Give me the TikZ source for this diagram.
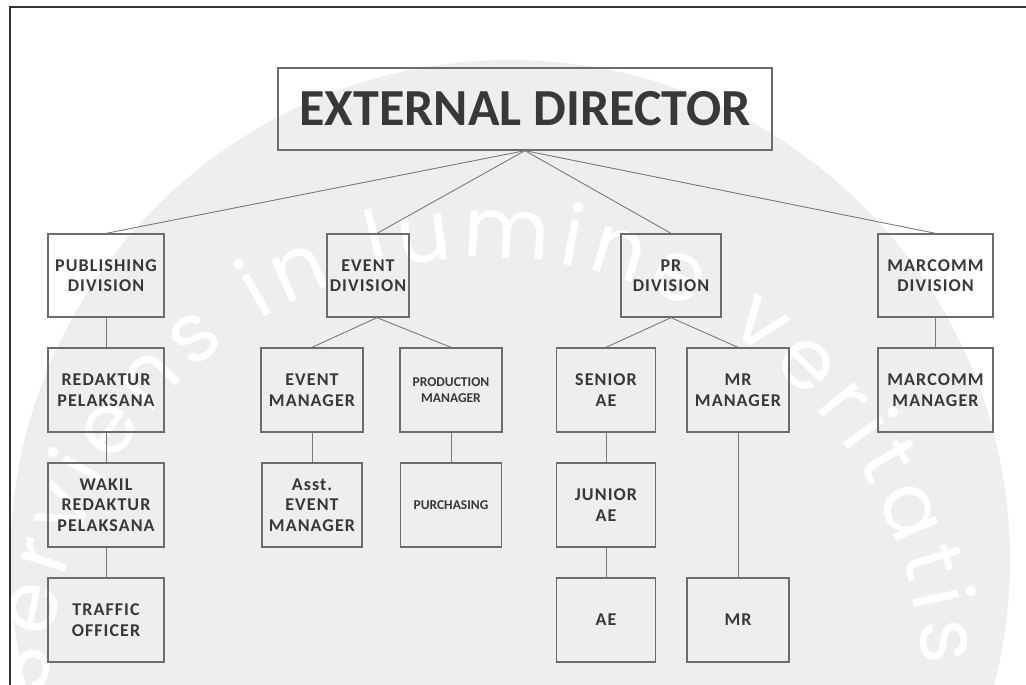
\documentclass[tikz,border=0pt]{standalone}
\usepackage{fontspec}
\setmainfont{Carlito}
\newfontfamily\spaced{Carlito}[LetterSpace=6]
\newfontfamily\wmfont{Poppins}
\usetikzlibrary{decorations.text}
\definecolor{txt}{HTML}{383838}
\definecolor{boxc}{HTML}{6C6C6C}
\definecolor{linec}{HTML}{7A7A7A}
\definecolor{wm}{HTML}{EEEEEE}
\tikzset{
  orgbox/.style={draw=boxc, line width=1.3pt, align=center, text=txt, inner sep=0pt,
    font=\spaced\bfseries\fontsize{18}{20.5}\selectfont},
  divbox/.style={orgbox, minimum height=83pt},
  rowbox/.style={orgbox, minimum height=84pt},
  smalltxt/.style={font=\bfseries\fontsize{13.5}{15.5}\selectfont},
  conn/.style={draw=linec, line width=0.9pt},
  frame/.style={draw=black!80, line width=1.3pt}
}
\begin{document}
\begin{tikzpicture}[x=1pt, y=-1pt]
\useasboundingbox (0,0) rectangle (1026,685);
\begin{scope}
\clip (0,0) rectangle (1026,685);
\fill[wm] (510,560) circle[radius=500];
\begin{scope}[shift={(486,696)}, y=1pt]
\path[decorate, decoration={text along path,
   text={|\wmfont\fontsize{84}{84}\selectfont\color{white}|Serviens in lumine veritatis},
   text align={fit to path}}]
   (180:438) arc[start angle=180, end angle=4, radius=438];
\end{scope}
\end{scope}
% frame
\draw[frame] (1026,7) -- (10,7) -- (10,685);
% nodes
\node[orgbox, minimum width=494pt, minimum height=82pt,
      font=\bfseries\fontsize{52}{60}\selectfont] (ed) at (525,109) {EXTERNAL DIRECTOR};
\node[divbox, minimum width=116pt] (pub) at (106,275.5) {PUBLISHING\\DIVISION};
\node[divbox, minimum width=82pt] (evd) at (368,275.5) {EVENT\\DIVISION};
\node[divbox, minimum width=100pt] (prd) at (671,275.5) {PR\\DIVISION};
\node[divbox, minimum width=115pt] (mcd) at (935.5,275.5) {MARCOMM\\DIVISION};
\node[rowbox, minimum width=116pt] (red) at (106,390) {REDAKTUR\\PELAKSANA};
\node[rowbox, minimum width=102pt] (evm) at (312,390) {EVENT\\MANAGER};
\node[rowbox, minimum width=102pt, smalltxt] (prm) at (451,390) {PRODUCTION\\MANAGER};
\node[rowbox, minimum width=99pt] (sae) at (606,390) {SENIOR\\AE};
\node[rowbox, minimum width=102pt] (mrm) at (738,390) {MR\\MANAGER};
\node[rowbox, minimum width=115pt] (mcm) at (935.5,390) {MARCOMM\\MANAGER};
\node[rowbox, minimum width=116pt] (wak) at (106,505) {WAKIL\\REDAKTUR\\PELAKSANA};
\node[rowbox, minimum width=100pt] (aem) at (312,505) {Asst.\\EVENT\\MANAGER};
\node[rowbox, minimum width=101pt, smalltxt] (pur) at (451,505) {PURCHASING};
\node[rowbox, minimum width=99pt] (jae) at (606,505) {JUNIOR\\AE};
\node[rowbox, minimum width=116pt] (tra) at (106,620) {TRAFFIC\\OFFICER};
\node[rowbox, minimum width=99pt] (ae) at (606,620) {AE};
\node[rowbox, minimum width=102pt] (mr) at (738,620) {MR};
% connectors
\draw[conn] (ed.south) -- (pub.north);
\draw[conn] (ed.south) -- ([xshift=9pt]evd.north);
\draw[conn] (ed.south) -- (prd.north);
\draw[conn] (ed.south) -- (mcd.north);
\draw[conn] ([xshift=9pt]evd.south) -- (evm.north);
\draw[conn] ([xshift=9pt]evd.south) -- (prm.north);
\draw[conn] (prd.south) -- (sae.north);
\draw[conn] (prd.south) -- (mrm.north);
\draw[conn] (pub.south) -- (red.north);
\draw[conn] (red.south) -- (wak.north);
\draw[conn] (wak.south) -- (tra.north);
\draw[conn] (evm.south) -- (aem.north);
\draw[conn] (prm.south) -- (pur.north);
\draw[conn] (sae.south) -- (jae.north);
\draw[conn] (jae.south) -- (ae.north);
\draw[conn] (mrm.south) -- (mr.north);
\draw[conn] (mcd.south) -- (mcm.north);
\end{tikzpicture}
\end{document}
